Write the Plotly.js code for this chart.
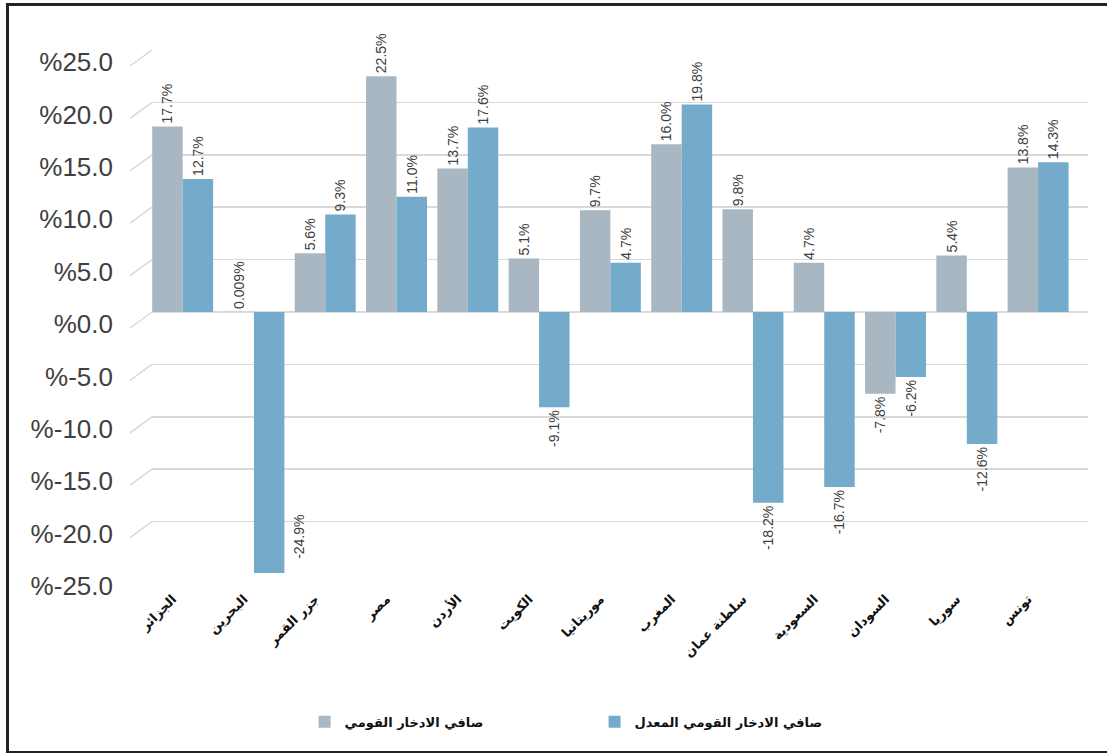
<!DOCTYPE html>
<html><head><meta charset="utf-8">
<script src="https://cdn.plot.ly/plotly-3.0.1.min.js"></script>
<style>
html,body{margin:0;padding:0;background:#fff;}
#chart{width:1107px;height:753px;}
#frame{position:absolute;left:6px;top:3px;width:1110px;height:745px;border-left:3px solid #222;border-top:3px solid #222;border-bottom:3px solid #222;pointer-events:none;}
</style></head><body>
<div id="chart"></div><div id="frame"></div>
<script>
const countries = ['الجزائر','البحرين','جزر القمر','مصر','الأردن','الكويت','موريتانيا','المغرب','سلطنة عمان','السعودية','السودان','سوريا','تونس'];
const netSavings = [17.7, 0.009, 5.6, 22.5, 13.7, 5.1, 9.7, 16.0, 9.8, 4.7, -7.8, 5.4, 13.8];
const adjustedSavings = [12.7, -24.9, 9.3, 11.0, 17.6, -9.1, 4.7, 19.8, -18.2, -16.7, -6.2, -12.6, 14.3];
const netLabels = ['17.7%','0.009%','5.6%','22.5%','13.7%','5.1%','9.7%','16.0%','9.8%','4.7%','-7.8%','5.4%','13.8%'];
const adjLabels = ['12.7%','-24.9%','9.3%','11.0%','17.6%','-9.1%','4.7%','19.8%','-18.2%','-16.7%','-6.2%','-12.6%','14.3%'];
const tickVals = [25, 20, 15, 10, 5, 0, -5, -10, -15, -20, -25];
const tickText = ['%25.0','%20.0','%15.0','%10.0','%5.0','%0.0','%-5.0','%-10.0','%-15.0','%-20.0','%-25.0'];
const seriesNames = ['صافي الادخار القومي','صافي الادخار القومي المعدل'];
const seriesColors = ['#A9B7C2','#74AACA'];

const numFont = 'Liberation Sans Narrow, Liberation Sans, Arial, sans-serif';
const arFont = 'DejaVu Sans, sans-serif';

// labels that would fall below the floor are drawn beside the bar instead
const FLOOR = -20;
function posFor(vals){ return vals.map(v => v < FLOOR ? 'none' : 'outside'); }

const traces = [
  {type:'bar', name:seriesNames[0], x:countries, y:netSavings, text:netLabels,
   textposition:posFor(netSavings), textangle:-90, cliponaxis:false, constraintext:'none',
   textfont:{family:numFont, size:14, color:'#404040'}, marker:{color:seriesColors[0]}, hoverinfo:'x+y'},
  {type:'bar', name:seriesNames[1], x:countries, y:adjustedSavings, text:adjLabels,
   textposition:posFor(adjustedSavings), textangle:-90, cliponaxis:false, constraintext:'none',
   textfont:{family:numFont, size:14, color:'#404040'}, marker:{color:seriesColors[1]}, hoverinfo:'x+y'}
];

const annotations = [];
[[netSavings, netLabels, -0.21],[adjustedSavings, adjLabels, 0.21]].forEach(([vals, labs, off]) => {
  vals.forEach((v,i) => {
    if (v < FLOOR) annotations.push({x:i+off, xref:'x', y:v, yref:'y', text:labs[i], showarrow:false,
      textangle:-90, xshift:30, yshift:36, font:{family:numFont, size:14, color:'#404040'}});
  });
});

const gridColor = '#D9D9D9';
const shapes = tickVals.map(v => ({type:'line', xref:'paper', yref:'y', xsizemode:'pixel', xanchor:0,
  x0:0, x1:-22, ysizemode:'pixel', yanchor:v, y0:0, y1:-16, line:{color:gridColor, width:1.5}}));

const layout = {
  width:1107, height:753,
  margin:{l:152, r:19, t:50, b:179},
  paper_bgcolor:'#fff', plot_bgcolor:'#fff',
  barmode:'group', bargap:0.145, bargroupgap:0,
  showlegend:true,
  legend:{orientation:'h', x:0.163, xanchor:'left', y:-0.282, yanchor:'middle',
    font:{family:arFont, size:13, color:'#111', weight:'bold'},
    entrywidth:245, entrywidthmode:'pixels', traceorder:'normal'},
  xaxis:{type:'category', range:[-0.43, 12.70], tickangle:-45, ticks:'', showgrid:false, showline:false, zeroline:false,
    tickfont:{family:arFont, size:13, color:'#111', weight:'bold'}, ticklabelstandoff:14, ticklabelshift:-10},
  yaxis:{range:[-25,25], tickvals:tickVals, ticktext:tickText, ticks:'', showline:false,
    gridcolor:gridColor, gridwidth:1.5, zeroline:true, zerolinecolor:gridColor, zerolinewidth:1.5,
    tickfont:{family:numFont, size:26, color:'#404040'}, ticklabelstandoff:38, ticklabelshift:12},
  annotations:annotations,
  shapes:shapes
};

Plotly.newPlot('chart', traces, layout, {displayModeBar:false, staticPlot:true});
</script>
</body></html>
